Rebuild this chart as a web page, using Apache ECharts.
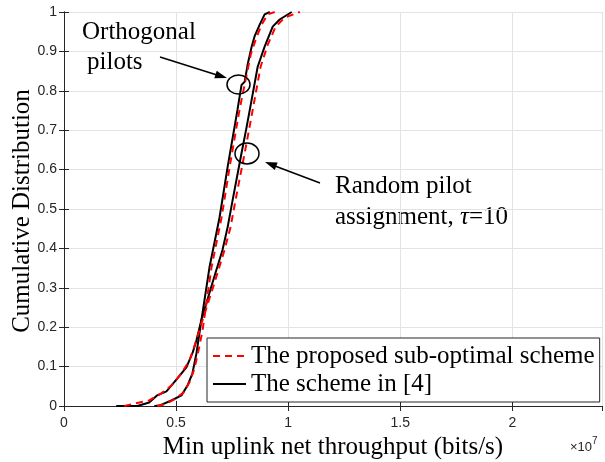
<!DOCTYPE html>
<html lang="en">
<head>
    <meta charset="UTF-8">
    <title>CDF</title>
    <script src="https://cdn.jsdelivr.net/npm/echarts@6/dist/echarts.min.js"></script>
</head>
<body style="margin:0">
<div id="main" style="width: 605px;height:462px"></div>
<script type="text/javascript">
    // x values in units of 1e7 bits/s
    var xTicks = [0, 0.5, 1, 1.5, 2];
    var yTicks = [0, 0.1, 0.2, 0.3, 0.4, 0.5, 0.6, 0.7, 0.8, 0.9, 1];

    // random pilot assignment, tau=10
    var randBlackX = [0.233, 0.327, 0.380, 0.416, 0.457, 0.506, 0.546, 0.573, 0.591, 0.613, 0.662, 0.707, 0.730, 0.752, 0.792, 0.815, 0.837, 0.864, 0.895, 0.931, 0.962, 1.016];
    var randBlackY = [0, 0, 0.009, 0.027, 0.037, 0.070, 0.098, 0.134, 0.167, 0.218, 0.312, 0.396, 0.454, 0.522, 0.642, 0.709, 0.777, 0.861, 0.912, 0.963, 0.981, 1];
    var randRedX = [0.269, 0.313, 0.380, 0.434, 0.479, 0.524, 0.560, 0.586, 0.618, 0.671, 0.716, 0.743, 0.765, 0.806, 0.828, 0.850, 0.877, 0.909, 0.944, 0.985, 1.052];
    var randRedY = [0, 0.006, 0.014, 0.032, 0.052, 0.083, 0.116, 0.159, 0.218, 0.312, 0.396, 0.454, 0.522, 0.642, 0.709, 0.777, 0.861, 0.917, 0.963, 0.986, 1];

    // orthogonal pilots
    var orthBlackX = [0.403, 0.425, 0.479, 0.524, 0.551, 0.573, 0.591, 0.604, 0.649, 0.694, 0.730, 0.774, 0.792, 0.806, 0.819, 0.837, 0.850, 0.873, 0.895, 0.918];
    var orthBlackY = [0, 0.001, 0.014, 0.027, 0.052, 0.083, 0.134, 0.184, 0.352, 0.479, 0.607, 0.752, 0.815, 0.823, 0.866, 0.912, 0.938, 0.968, 0.994, 1];
    var orthRedX = [0.416, 0.448, 0.492, 0.533, 0.560, 0.582, 0.600, 0.618, 0.658, 0.703, 0.739, 0.783, 0.815, 0.833, 0.855, 0.882, 0.909, 0.940];
    var orthRedY = [0, 0.004, 0.017, 0.034, 0.060, 0.095, 0.141, 0.192, 0.352, 0.479, 0.607, 0.752, 0.841, 0.892, 0.930, 0.968, 0.994, 1];

    var nameRed = 'The proposed sub-optimal scheme';
    var nameBlack = 'The scheme in [4]';

    function pairs(xs, ys) {
        var out = [];
        for (var i = 0; i < xs.length; i++) out.push([xs[i], ys[i]]);
        return out;
    }

    var serif = 'Liberation Serif, Times New Roman, serif';
    var sans = 'Liberation Sans, Arial, sans-serif';
    var axisCol = '#262626';

    function lineSeries(name, data, color, dashed) {
        return {
            name: name,
            type: 'line',
            data: data,
            symbol: 'none',
            showSymbol: false,
            animation: false,
            z: dashed ? 4 : 3,
            lineStyle: {color: color, width: 2, type: dashed ? [7, 5] : 'solid'},
            itemStyle: {color: color}
        };
    }

    var myChart = echarts.init(document.getElementById('main'));

    var option = {
        animation: false,
        grid: {left: 64, right: 3, top: 12, bottom: 56, containLabel: false, outerBoundsMode: 'none'},
        legend: {
            data: [nameRed, nameBlack],
            orient: 'vertical',
            left: 207,
            top: 338,
            padding: [4, 5, 4, 5],
            itemGap: 0,
            itemWidth: 33,
            itemHeight: 20,
            itemStyle: {opacity: 0},
            backgroundColor: '#fff',
            borderColor: axisCol,
            borderWidth: 1,
            borderRadius: 0,
            textStyle: {fontFamily: serif, fontSize: 25, color: '#000', lineHeight: 28}
        },
        xAxis: [{
            type: 'value',
            min: 0, max: 2.4, interval: 0.5,
            name: 'Min uplink net throughput (bits/s)',
            nameLocation: 'middle',
            nameGap: 21,
            nameTextStyle: {fontFamily: serif, fontSize: 25, color: '#000'},
            axisLine: {lineStyle: {color: axisCol}},
            axisTick: {inside: true, length: 5, lineStyle: {color: axisCol}},
            axisLabel: {
                margin: 10, color: axisCol, fontFamily: sans, fontSize: 14,
                showMaxLabel: false,
                formatter: function (v) { return xTicks.indexOf(v) >= 0 ? String(v) : ''; }
            },
            splitLine: {show: true, lineStyle: {color: '#e3e3e3'}}
        }, {
            type: 'value', position: 'top',
            min: 0, max: 2.4, interval: 0.5,
            axisLine: {lineStyle: {color: axisCol}},
            axisTick: {inside: true, length: 5, lineStyle: {color: axisCol}},
            axisLabel: {show: false},
            splitLine: {show: false}
        }],
        yAxis: [{
            type: 'value',
            min: 0, max: 1, interval: 0.1,
            axisLine: {show: true, lineStyle: {color: axisCol}},
            axisTick: {show: true, inside: true, length: 5, lineStyle: {color: axisCol}},
            axisLabel: {
                margin: 7, color: axisCol, fontFamily: sans, fontSize: 14,
                formatter: function (v) { return String(Math.round(v * 10) / 10); }
            },
            splitLine: {show: true, lineStyle: {color: '#e3e3e3'}}
        }, {
            type: 'value', position: 'right',
            min: 0, max: 1, interval: 0.1,
            axisLine: {show: true, lineStyle: {color: axisCol}},
            axisTick: {show: true, inside: true, length: 5, lineStyle: {color: axisCol}},
            axisLabel: {show: false},
            splitLine: {show: false}
        }],
        series: [
            lineSeries(nameBlack, pairs(randBlackX, randBlackY), '#000', false),
            lineSeries(nameBlack, pairs(orthBlackX, orthBlackY), '#000', false),
            lineSeries(nameRed, pairs(randRedX, randRedY), '#ff0000', true),
            lineSeries(nameRed, pairs(orthRedX, orthRedY), '#ff0000', true)
        ],
        graphic: [
            // y axis title
            {type: 'text', x: 22, y: 211, rotation: Math.PI / 2, style: {
                text: 'Cumulative Distribution', font: '25px ' + serif, fill: '#000',
                align: 'center', verticalAlign: 'middle'
            }},
            // annotation texts
            {type: 'text', left: 82, top: 20, style: {text: 'Orthogonal', font: '25px ' + serif, fill: '#000'}},
            {type: 'text', left: 87, top: 50, style: {text: 'pilots', font: '25px ' + serif, fill: '#000'}},
            {type: 'text', left: 335, top: 174, style: {text: 'Random pilot', font: '25px ' + serif, fill: '#000'}},
            {type: 'text', left: 335, top: 205, style: {
                text: '{a|assignment, }{t|τ}{a|=10}',
                rich: {
                    a: {fontFamily: serif, fontSize: 25, fill: '#000'},
                    t: {fontFamily: serif, fontSize: 25, fontStyle: 'italic', fill: '#000'}
                }
            }},
            // ellipses marking the curves
            {type: 'ellipse', shape: {cx: 238.5, cy: 84.5, rx: 11.5, ry: 9.5}, style: {fill: 'none', stroke: '#000', lineWidth: 1.5}, z: 10},
            {type: 'ellipse', shape: {cx: 247, cy: 153.5, rx: 12, ry: 10.5}, style: {fill: 'none', stroke: '#000', lineWidth: 1.5}, z: 10},
            // arrows
            {type: 'line', shape: {x1: 160, y1: 57, x2: 217, y2: 75}, style: {stroke: '#000', lineWidth: 1.5}, z: 10},
            {type: 'polygon', shape: {points: [[227, 78], [216.7, 70.7], [214.3, 78.3]]}, style: {fill: '#000'}, z: 10},
            {type: 'line', shape: {x1: 320, y1: 183, x2: 275, y2: 166}, style: {stroke: '#000', lineWidth: 1.5}, z: 10},
            {type: 'polygon', shape: {points: [[265, 162], [277.6, 162.6], [274.8, 170]]}, style: {fill: '#000'}, z: 10},
            // exponent label
            {type: 'text', left: 570, top: 436, style: {
                text: '{m|×10}{e|7}',
                rich: {
                    m: {fontFamily: sans, fontSize: 13, fill: axisCol, verticalAlign: 'bottom'},
                    e: {fontFamily: sans, fontSize: 10, fill: axisCol, verticalAlign: 'top', padding: [0, 0, 8, 0]}
                }
            }}
        ]
    };

    myChart.setOption(option);
</script>
</body>
</html>
